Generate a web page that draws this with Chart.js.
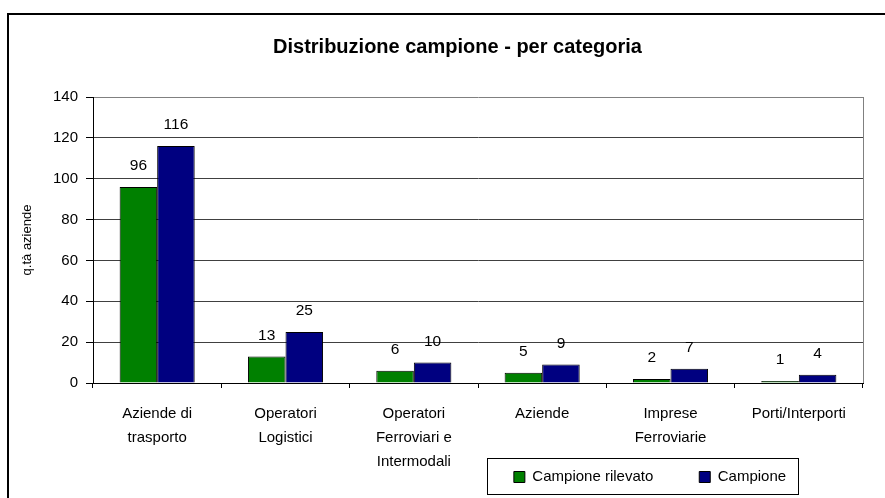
<!DOCTYPE html>
<html>
<head>
<meta charset="utf-8">
<script src="https://cdn.jsdelivr.net/npm/chart.js@4.4.1/dist/chart.umd.min.js"></script>
<style>
  html, body { margin: 0; padding: 0; background: #fff; }
</style>
</head>
<body>
<canvas id="distribuzione" width="885" height="498"></canvas>
<script>
var categorie = [
    ['Aziende di', 'trasporto'],
    ['Operatori', 'Logistici'],
    ['Operatori', 'Ferroviari e', 'Intermodali'],
    'Aziende',
    ['Imprese', 'Ferroviarie'],
    'Porti/Interporti'
];
var campioneRilevato = [96, 13, 6, 5, 2, 1];
var campione = [116, 25, 10, 9, 7, 4];
var yTicks = [0, 20, 40, 60, 80, 100, 120, 140];

var FONT = "'Liberation Sans', Arial, sans-serif";

// etichette valori sopra le barre + bordi stile Excel
var excelLook = {
    id: 'excelLook',
    afterLayout: function (chart) {
        var t = chart.titleBlock;
        if (t) { t.left = 30; t.right = 885; t.width = 855; }
        var lg = chart.legend;
        if (lg) {
            var pad = lg.options.labels.padding;
            lg.left = 440; lg.right = 860; lg.width = 420;
            lg.top = 477 - pad - 7.5; lg.bottom = lg.top + lg.height;
        }
        // le etichette multi-riga dell'asse x non vanno tagliate
        var x = chart.scales.x;
        x.bottom = 498; x.height = x.bottom - x.top;
    },
    afterDatasetsDraw: function (chart) {
        var ctx = chart.ctx;
        ctx.save();
        ctx.font = '15.5px ' + FONT;
        ctx.fillStyle = '#000';
        ctx.textAlign = 'center';
        ctx.textBaseline = 'middle';
        chart.data.datasets.forEach(function (ds, i) {
            chart.getDatasetMeta(i).data.forEach(function (bar, j) {
                ctx.fillText(ds.data[j], bar.x, bar.y - 21);
            });
        });
        ctx.restore();
    },
    afterDraw: function (chart) {
        var ctx = chart.ctx, a = chart.chartArea;
        ctx.save();
        // bordo destro area grafico
        ctx.strokeStyle = '#808080';
        ctx.lineWidth = 1;
        ctx.beginPath();
        ctx.moveTo(Math.round(a.right) + 0.5, a.top);
        ctx.lineTo(Math.round(a.right) + 0.5, a.bottom);
        ctx.stroke();
        // riquadro legenda
        ctx.strokeStyle = '#000';
        ctx.strokeRect(487.5, 458.5, 311, 36);
        // bordo esterno
        ctx.lineWidth = 2;
        ctx.beginPath();
        ctx.moveTo(8, 498);
        ctx.lineTo(8, 14);
        ctx.lineTo(885, 14);
        ctx.stroke();
        ctx.restore();
    }
};

var ctx = document.getElementById('distribuzione').getContext('2d');
var chart = new Chart(ctx, {
    type: 'bar',
    data: {
        labels: categorie,
        datasets: [{
            label: 'Campione rilevato',
            data: campioneRilevato,
            backgroundColor: '#008000',
            borderColor: '#000',
            borderWidth: 1
        }, {
            label: 'Campione',
            data: campione,
            backgroundColor: '#000080',
            borderColor: '#000',
            borderWidth: 1
        }]
    },
    plugins: [excelLook],
    options: {
        responsive: false,
        animation: false,
        devicePixelRatio: 1,
        layout: { padding: { top: 0, right: 22, bottom: 0, left: 0 } },
        datasets: {
            bar: { categoryPercentage: 0.585, barPercentage: 1 }
        },
        plugins: {
            tooltip: { enabled: false },
            title: {
                display: true,
                text: 'Distribuzione campione - per categoria',
                color: '#000',
                font: { family: FONT, size: 20, weight: 'bold' },
                padding: { top: 35, bottom: 38 }
            },
            legend: {
                position: 'bottom',
                align: 'center',
                labels: {
                    color: '#000',
                    font: { family: FONT, size: 15 },
                    boxWidth: 11,
                    boxHeight: 11,
                    padding: 46
                }
            }
        },
        scales: {
            x: {
                afterFit: function (s) { s.height = 498 - 383 - s.chart.legend.height; },
                border: { color: '#000', width: 1 },
                grid: { offset: true, drawOnChartArea: false, drawTicks: true, tickLength: 5, tickColor: '#000' },
                ticks: {
                    color: '#000',
                    autoSkip: false,
                    maxRotation: 0,
                    padding: 14,
                    font: { family: FONT, size: 15, lineHeight: 1.6 }
                }
            },
            y: {
                min: 0,
                max: 140,
                afterFit: function (s) { s.width = 93; },
                afterBuildTicks: function (s) { s.ticks = yTicks.map(function (v) { return { value: v }; }); },
                border: { color: '#000', width: 1 },
                grid: {
                    color: function (c) { return c.tick && c.tick.value === 140 ? '#808080' : '#404040'; },
                    tickColor: '#000',
                    tickLength: 7
                },
                ticks: {
                    color: '#000',
                    padding: 8,
                    font: { family: FONT, size: 15 }
                },
                title: {
                    display: true,
                    text: 'q.tà aziende',
                    color: '#000',
                    font: { family: FONT, size: 13 },
                    padding: { top: 20, bottom: 0 }
                }
            }
        }
    }
});
</script>
</body>
</html>
